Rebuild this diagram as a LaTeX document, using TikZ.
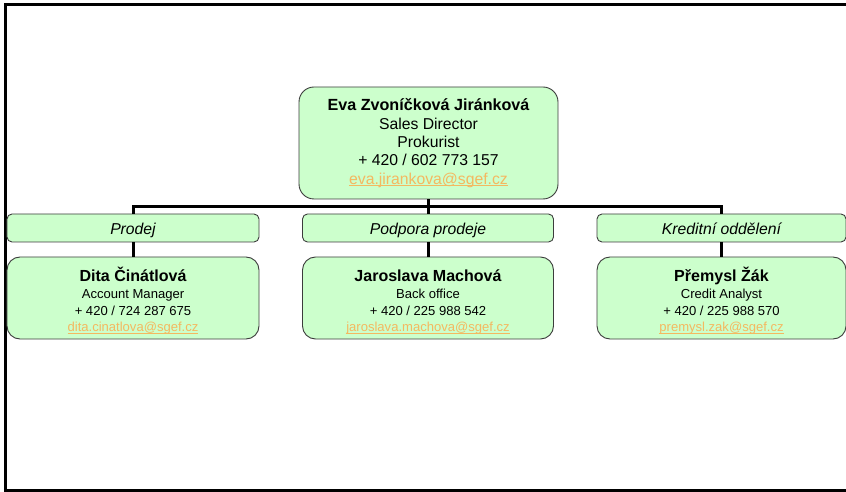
\documentclass[tikz,border=0pt]{standalone}
\usepackage{fontspec}
\setmainfont{Liberation Sans}
\definecolor{boxfill}{RGB}{204,255,204}
\definecolor{boxline}{RGB}{60,60,60}
\definecolor{mailc}{RGB}{244,184,96}
\newcommand{\mail}[1]{{\color{mailc}\setbox0\hbox{#1}\rlap{\rule[-1.6bp]{\wd0}{0.7bp}}\box0}}
\tikzset{
  topbox/.style={draw=boxline, fill=boxfill, line width=0.9bp, rounded corners=15bp,
    minimum width=259bp, minimum height=112bp, align=center, inner sep=0pt,
    font=\fontsize{15.8}{18.4}\selectfont},
  catbox/.style={draw=boxline, fill=boxfill, line width=0.9bp, rounded corners=5bp,
    minimum height=28bp, inner sep=0pt, text height=13bp, text depth=0bp,
    font=\fontsize{15.8}{18}\selectfont\itshape},
  personbox/.style={draw=boxline, fill=boxfill, line width=0.9bp, rounded corners=13bp,
    minimum height=82bp, align=center, inner sep=0pt,
    font=\fontsize{13.1}{16.9}\selectfont},
  conn/.style={line width=3bp, black, line join=miter},
  frame/.style={line width=3bp, black}
}
\begin{document}
\begin{tikzpicture}[x=1bp,y=-1bp]
\useasboundingbox (0,0) rectangle (846,492);
\draw[frame] (846,4.8) -- (5.6,4.8) -- (5.6,490.6) -- (846,490.6);

\node[topbox] (top) at (428.5,143) {{\fontsize{16.2}{18.4}\selectfont\bfseries Eva Zvoníčková Jiránková}\\Sales Director\\Prokurist\\+ 420 / 602 773 157\\\mail{eva.jirankova@sgef.cz}};

\node[catbox, minimum width=252bp] (cat1) at (133,228) {Prodej};
\node[catbox, minimum width=251bp] (cat2) at (428,228) {Podpora prodeje};
\node[catbox, minimum width=249bp] (cat3) at (721.5,228) {Kreditní oddělení};

\node[personbox, minimum width=252bp] (p1) at (133,298) {\rule{0pt}{20bp}{\fontsize{16.1}{17}\selectfont\bfseries Dita Činátlová}\\Account Manager\\+ 420 / 724 287 675\\\mail{dita.cinatlova@sgef.cz}};
\node[personbox, minimum width=251bp] (p2) at (428,298) {\rule{0pt}{20bp}{\fontsize{16.1}{17}\selectfont\bfseries Jaroslava Machová}\\Back office\\+ 420 / 225 988 542\\\mail{jaroslava.machova@sgef.cz}};
\node[personbox, minimum width=249bp] (p3) at (721.5,298) {\rule{0pt}{20bp}{\fontsize{16.1}{17}\selectfont\bfseries Přemysl Žák}\\Credit Analyst\\+ 420 / 225 988 570\\\mail{premysl.zak@sgef.cz}};

\coordinate (j) at (428,206.5);
\draw[conn] (top.south -| j) -- (j);
\draw[conn] (j) -| (cat1.north);
\draw[conn] (j) -| (cat3.north);
\draw[conn] (j) -- (cat2.north);
\draw[conn] (cat1.south) -- (p1.north);
\draw[conn] (cat2.south) -- (p2.north);
\draw[conn] (cat3.south) -- (p3.north);
\end{tikzpicture}
\end{document}
